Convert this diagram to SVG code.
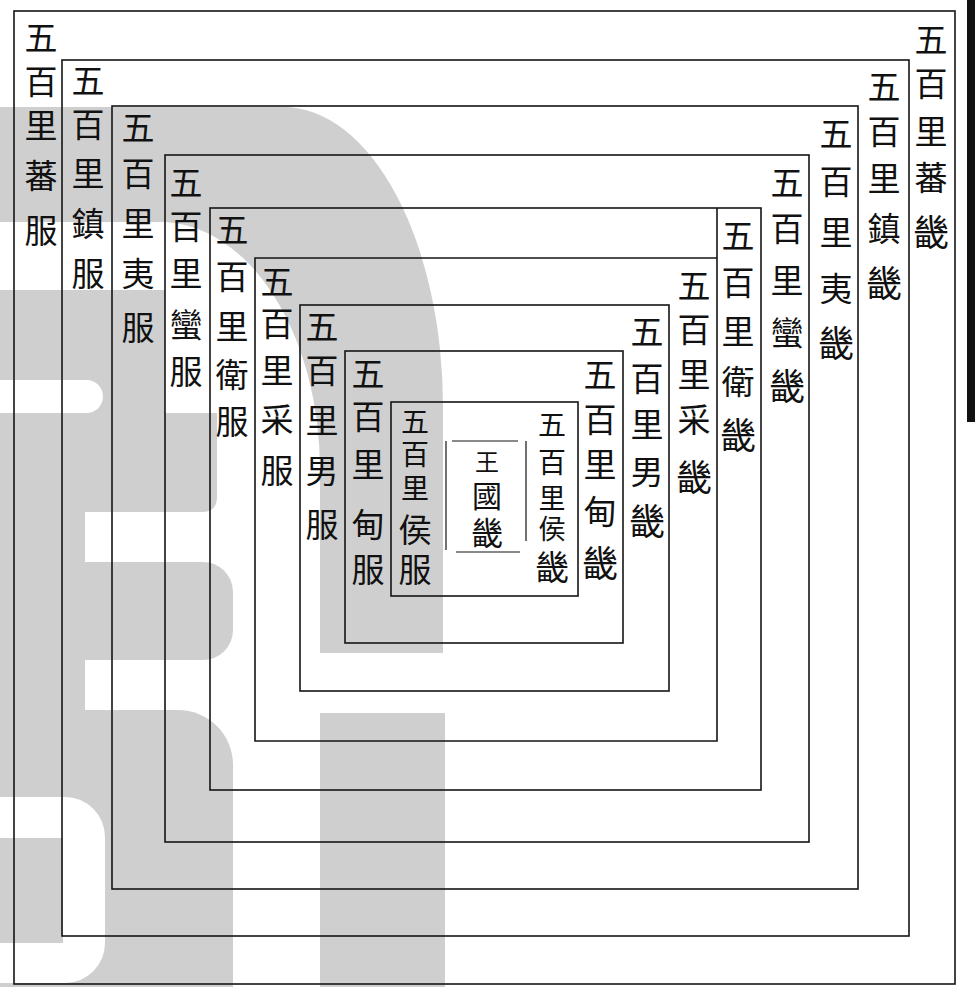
<svg xmlns="http://www.w3.org/2000/svg" width="975" height="987" viewBox="0 0 975 987">
<style>
.wm{fill:#cfcfcf}
.wh{fill:#ffffff}
.fr{fill:none;stroke:#141414;stroke-width:1.6}
.ln{stroke:#141414;stroke-width:1.6;fill:none}
.in{stroke:#141414;stroke-width:1.2;fill:none}
text{font-family:"Noto Sans CJK TC","Noto Sans CJK SC",sans-serif;font-size:33px;fill:#111;text-anchor:middle;dominant-baseline:central}
.s{font-size:28px}
.t{font-size:27px}
.k{font-size:36px}
</style>
<rect x="0" y="0" width="975" height="987" fill="#ffffff"/>
<g id="watermark">
<path class="wm" d="M0,107 H283 A160,300 0 0 1 443,407 V653 H320 V470 A160,248 0 0 0 160,222 H0 Z"/>
<rect class="wm" x="0" y="290" width="165" height="123"/>
<path class="wm" d="M0,413 H217 V497 Q217,512 202,512 H0 Z"/>
<rect class="wh" x="-30" y="380" width="133" height="33" rx="16.5"/>
<rect class="wm" x="0" y="512" width="85" height="285"/>
<path class="wm" d="M85,562 H203 A30,30 0 0 1 233,592 V630 A30,30 0 0 1 203,660 H85 Z"/>
<path class="wm" d="M0,710 H178 A55,55 0 0 1 233,765 V987 H0 Z"/>
<path class="wh" d="M0,797 H65 A40,40 0 0 1 105,837 V943 A40,40 0 0 1 65,983 H0 Z"/>
<rect class="wm" x="0" y="838" width="63" height="105"/>
<rect class="wm" x="320" y="713" width="125" height="274"/>
</g>
<rect id="edge-bar" x="967" y="0" width="8" height="422" fill="#111"/>
<g id="zone1">
<rect class="fr" x="14" y="11" width="941" height="973"/>
<text x="41" y="36">五</text><text x="41" y="80">百</text><text x="41" y="124">里</text><text x="41" y="174">蕃</text><text x="41" y="229">服</text>
<text x="931" y="38">五</text><text x="931" y="82">百</text><text x="931" y="130">里</text><text x="931" y="176">蕃</text><text class="k" x="931" y="230">畿</text>
</g>
<g id="zone2">
<rect class="fr" x="62" y="60" width="847" height="876"/>
<text x="88" y="79">五</text><text x="88" y="123">百</text><text x="88" y="172">里</text><text x="88" y="222">鎮</text><text x="88" y="272">服</text>
<text x="884" y="85">五</text><text x="884" y="130">百</text><text x="884" y="177">里</text><text x="884" y="227">鎮</text><text class="k" x="884" y="281">畿</text>
</g>
<g id="zone3">
<rect class="fr" x="112" y="106" width="746" height="783"/>
<text x="138" y="126">五</text><text x="138" y="172">百</text><text x="138" y="222">里</text><text x="138" y="272">夷</text><text x="138" y="326">服</text>
<text x="836" y="132">五</text><text x="836" y="180">百</text><text x="836" y="231">里</text><text x="836" y="287">夷</text><text class="k" x="836" y="341">畿</text>
</g>
<g id="zone4">
<rect class="fr" x="165" y="155" width="644" height="687"/>
<text x="186" y="181">五</text><text x="186" y="225">百</text><text x="186" y="272">里</text><text x="186" y="323">蠻</text><text x="186" y="370">服</text>
<text x="787" y="181">五</text><text x="787" y="227">百</text><text x="787" y="279">里</text><text x="787" y="331">蠻</text><text class="k" x="787" y="384">畿</text>
</g>
<g id="zone5">
<rect class="fr" x="210" y="208" width="551" height="582"/>
<text x="232" y="228">五</text><text x="232" y="275">百</text><text x="232" y="325">里</text><text x="232" y="373">衛</text><text x="232" y="420">服</text>
<text x="738" y="234">五</text><text x="738" y="281">百</text><text x="738" y="330">里</text><text x="738" y="380">衛</text><text class="k" x="738" y="433">畿</text>
</g>
<g id="zone6">
<path class="ln" d="M717,208 V741 H255 V258 H717"/>
<text x="277" y="280">五</text><text x="277" y="322">百</text><text x="277" y="369">里</text><text x="277" y="418">采</text><text x="277" y="469">服</text>
<text x="694" y="284">五</text><text x="694" y="328">百</text><text x="694" y="373">里</text><text x="694" y="418">采</text><text class="k" x="694" y="475">畿</text>
</g>
<g id="zone7">
<rect class="fr" x="300" y="305" width="369" height="386"/>
<text x="322" y="325">五</text><text x="322" y="369">百</text><text x="322" y="419">里</text><text x="322" y="469">男</text><text x="322" y="523">服</text>
<text x="647" y="330">五</text><text x="647" y="377">百</text><text x="647" y="423">里</text><text x="647" y="470">男</text><text class="k" x="647" y="519">畿</text>
</g>
<g id="zone8">
<rect class="fr" x="345" y="351" width="278" height="292"/>
<text x="368" y="372">五</text><text x="368" y="415">百</text><text x="368" y="463">里</text><text x="368" y="523">甸</text><text x="368" y="568">服</text>
<text x="600" y="373">五</text><text x="600" y="418">百</text><text x="600" y="463">里</text><text x="600" y="510">甸</text><text class="k" x="600" y="561">畿</text>
</g>
<g id="zone9">
<rect class="fr" x="391" y="402" width="187" height="194"/>
<text class="s" x="415" y="420">五</text><text class="s" x="415" y="453">百</text><text class="s" x="415" y="487">里</text><text x="415" y="528">侯</text><text x="415" y="568">服</text>
<text class="s" x="552" y="423">五</text><text class="s" x="552" y="461">百</text><text class="t" x="552" y="496">里</text><text class="t" x="552" y="527">侯</text><text x="552" y="565" style="font-size:34px">畿</text>
</g>
<g id="zone10">
<path class="in" d="M452,441 H518 M526,441 V541 M456,552 H520 M446,441 V550"/>
<text x="487" y="460" style="font-size:24px">王</text><text x="487" y="494" style="font-size:30px">國</text><text x="487" y="531" style="font-size:32px">畿</text>
</g>
</svg>
